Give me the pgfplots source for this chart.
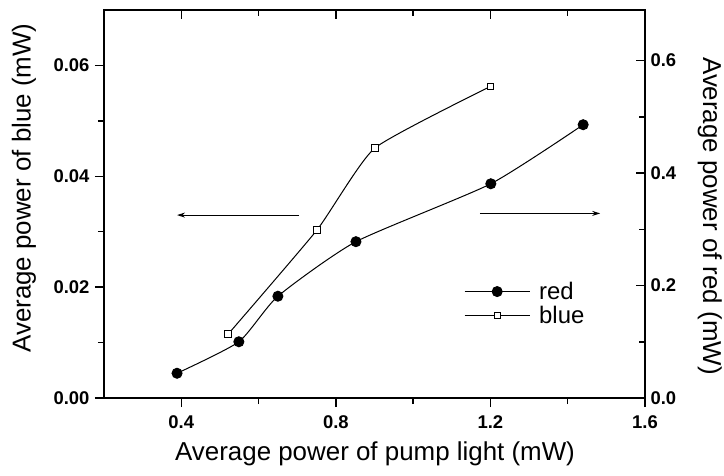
\documentclass[border=0pt]{standalone}
\usepackage{fontspec}
\setmainfont{Liberation Sans}
\usepackage{pgfplots}
\pgfplotsset{compat=1.18}
\usetikzlibrary{arrows.meta}
\begin{document}
\begin{tikzpicture}
\path[use as bounding box] (-104bp,-78bp) rectangle (620bp,398bp);
\pgfplotsset{
  common/.style={
    scale only axis, width=541bp, height=388bp,
    xmin=0.2, xmax=1.6,
    xtick={0.4,0.8,1.2,1.6}, minor xtick={0.6,1.0,1.4},
    axis line style={line width=2.5bp},
    major tick style={line width=1.5bp, black},
    minor tick style={line width=1.5bp, black},
    major tick length=9bp, minor tick length=6bp,
    scaled y ticks=false, scaled x ticks=false,
    tick label style={font=\fontsize{18.5}{18.5}\selectfont\bfseries},
    /pgf/number format/assume math mode=true,
  }
}
\begin{axis}[common,
  ymin=0, ymax=0.07,
  ytick={0,0.02,0.04,0.06}, minor ytick={0.01,0.03,0.05},
  xtick pos=lower, ytick pos=left, tick align=outside,
  yticklabel style={/pgf/number format/fixed, /pgf/number format/fixed zerofill, /pgf/number format/precision=2, xshift=-2bp},
  xticklabel style={/pgf/number format/fixed, /pgf/number format/fixed zerofill, /pgf/number format/precision=1, yshift=-5bp},
  xlabel={Average power of pump light (mW)},
  ylabel={Average power of blue (mW)},
  every axis x label/.style={at={(axis description cs:0.501,-0.162)}, anchor=base, font=\fontsize{26}{26}\selectfont},
  every axis y label/.style={at={(axis description cs:-0.148,0.541)}, anchor=center, rotate=90, font=\fontsize{26}{26}\selectfont},
]
\addplot[black, line width=1bp, smooth, tension=0.3, mark=square*, mark size=3.3bp,
  mark options={solid, fill=white, line width=1bp}]
  coordinates {(0.521,0.0115) (0.751,0.0303) (0.901,0.0451) (1.200,0.0562)};
\draw[line width=1bp, -{Stealth[length=8bp,width=5bp]}] (axis cs:0.705,0.033) -- (axis cs:0.389,0.033);
\draw[line width=1bp, -{Stealth[length=8bp,width=5bp]}] (axis cs:1.173,0.0333) -- (axis cs:1.484,0.0333);
\end{axis}
\begin{axis}[common,
  ymin=0, ymax=0.69,
  ytick={0,0.2,0.4,0.6}, minor ytick={0.1,0.3,0.5},
  xtick pos=upper, ytick pos=right, tick align=inside,
  xticklabels={},
  yticklabel style={/pgf/number format/fixed, /pgf/number format/fixed zerofill, /pgf/number format/precision=1, xshift=2bp},
  ylabel={Average power of red (mW)},
  every axis y label/.style={at={(axis description cs:1.120,0.469)}, anchor=center, rotate=-90, font=\fontsize{26}{26}\selectfont},
  legend cell align=left,
  legend image code/.code={\draw[#1, mark=none] (0bp,0bp) -- (65bp,0bp); \path[#1] plot coordinates {(32.5bp,0bp)};},
  legend style={draw=none, fill=none, at={(axis description cs:0.6155,0.2436)}, anchor=west, xshift=27bp,
    inner sep=0pt, row sep=3bp, column sep=8bp, font=\fontsize{24}{24}\selectfont,
    nodes={inner sep=1bp}},
]
\addplot[black, line width=1bp, smooth, tension=0.35, mark=*, mark size=5bp]
  coordinates {(0.389,0.044) (0.549,0.100) (0.650,0.181) (0.852,0.278) (1.201,0.381) (1.440,0.486)};
\addlegendentry{red}
\addlegendimage{black, line width=1bp, mark=square*, mark size=3bp, mark options={solid, fill=white, line width=1bp}}
\addlegendentry{blue}
\end{axis}
\end{tikzpicture}
\end{document}
